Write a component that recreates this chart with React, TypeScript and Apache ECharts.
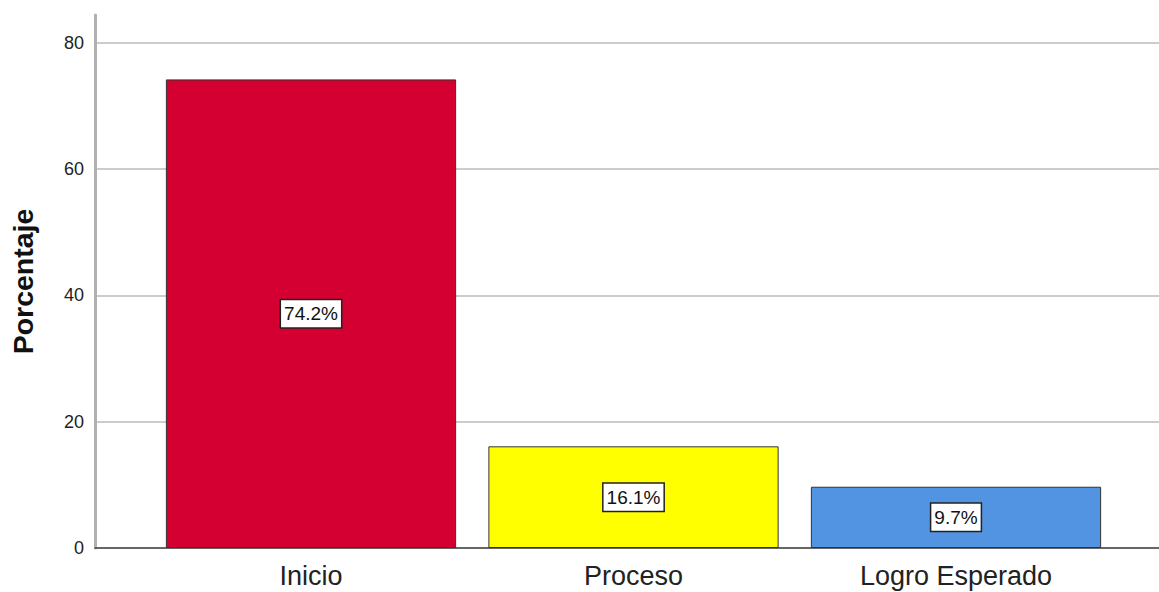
import React, { useEffect, useRef } from "react";
import * as echarts from "echarts";

const categories = ["Inicio", "Proceso", "Logro Esperado"];
const values = [74.2, 16.1, 9.7];
const barColors = ["#d50032", "#ffff00", "#5294e2"];
const yTicks = [0, 20, 40, 60, 80];
const yMax = 84.4;

export default function App() {
  const ref = useRef<HTMLDivElement>(null);
  useEffect(() => {
    if (!ref.current) return;
    const chart = echarts.init(ref.current, null, { renderer: "svg" });
    const font = "'Liberation Sans', Arial, sans-serif";
    chart.setOption({
      animation: false,
      backgroundColor: "#ffffff",
      grid: [
        { left: 95, right: 0, top: 15, bottom: 44 },
        { left: 149.75, right: 41.75, top: 15, bottom: 44 },
      ],
      xAxis: [
        {
          type: "value",
          gridIndex: 0,
          min: 0,
          max: 1,
          axisLabel: { show: false },
          axisTick: { show: false },
          splitLine: { show: false },
          axisLine: { show: true, lineStyle: { color: "#444", width: 1.5 } },
        },
        {
          type: "category",
          gridIndex: 1,
          data: categories,
          axisLine: { show: false },
          axisTick: { show: false },
          axisLabel: {
            fontFamily: font,
            fontSize: 27,
            color: "#222",
            margin: 14,
          },
        },
      ],
      yAxis: [
        {
          type: "value",
          gridIndex: 0,
          min: 0,
          max: yMax,
          interval: 20,
          name: "Porcentaje",
          nameLocation: "middle",
          nameGap: 58,
          nameTextStyle: {
            fontFamily: font,
            fontSize: 28.5,
            fontWeight: "bold",
            color: "#111",
          },
          axisLine: { show: true, lineStyle: { color: "#b0b0b0", width: 3 } },
          axisTick: { show: false },
          axisLabel: {
            fontFamily: font,
            fontSize: 18,
            color: "#222",
            margin: 11,
            showMaxLabel: false,
            formatter: (v: number) => (yTicks.includes(v) ? String(v) : ""),
          },
          splitLine: {
            show: true,
            showMaxLine: false,
            lineStyle: { color: "#cccccc", width: 2 },
          },
        },
        {
          type: "value",
          gridIndex: 1,
          min: 0,
          max: yMax,
          interval: 20,
          show: false,
          splitLine: { show: false },
        },
      ],
      series: [
        {
          type: "bar",
          xAxisIndex: 1,
          yAxisIndex: 1,
          barCategoryGap: "10%",
          data: values.map((v, i) => ({
            value: v,
            itemStyle: { color: barColors[i] },
          })),
          itemStyle: { borderColor: "#333", borderWidth: 1 },
          label: {
            show: true,
            position: "inside",
            formatter: (p: any) => p.value.toFixed(1) + "%",
            fontFamily: font,
            fontSize: 19,
            color: "#111",
            backgroundColor: "#ffffff",
            borderColor: "#222",
            borderWidth: 1.5,
            padding: [5, 3, 3, 3],
          },
        },
      ],
    });
    return () => chart.dispose();
  }, []);
  return (
    <div
      ref={ref}
      style={{ position: "absolute", left: 0, top: 0, width: 1159, height: 592 }}
    />
  );
}
